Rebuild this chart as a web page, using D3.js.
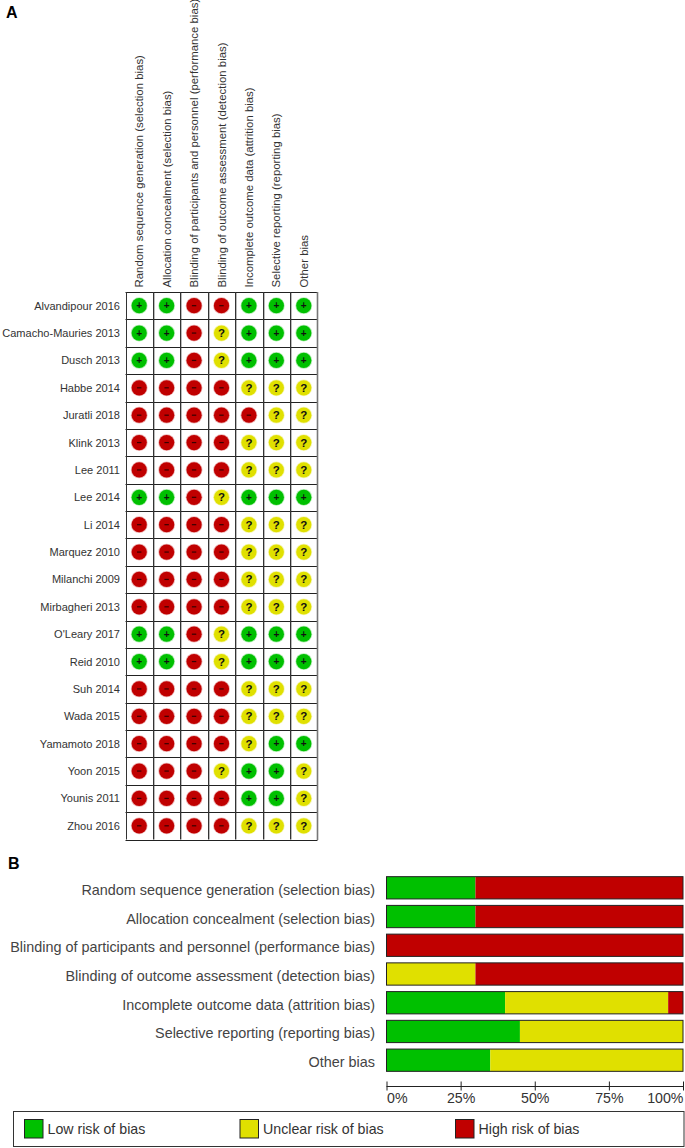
<!DOCTYPE html>
<html><head><meta charset="utf-8">
<script src="https://cdn.jsdelivr.net/npm/d3@7/dist/d3.min.js"></script>
<style>html,body{margin:0;padding:0;background:#fff}svg{display:block}text{font-family:"Liberation Sans",Arial,sans-serif}</style>
</head><body><svg id="c" width="685" height="1148"></svg>
<script>
const domains = ["Random sequence generation (selection bias)","Allocation concealment (selection bias)","Blinding of participants and personnel (performance bias)","Blinding of outcome assessment (detection bias)","Incomplete outcome data (attrition bias)","Selective reporting (reporting bias)","Other bias"];
const studies = ["Alvandipour 2016","Camacho-Mauries 2013","Dusch 2013","Habbe 2014","Juratli 2018","Klink 2013","Lee 2011","Lee 2014","Li 2014","Marquez 2010","Milanchi 2009","Mirbagheri 2013","O'Leary 2017","Reid 2010","Suh 2014","Wada 2015","Yamamoto 2018","Yoon 2015","Younis 2011","Zhou 2016"];
const judgements = ["++--+++","++-?+++","++-?+++","----???","-----??","----???","----???","++-?+++","----???","----???","----???","----???","++-?+++","++-?+++","----???","----???","----?++","---?++?","----++?","----???"];
const lowPct = [30,30,0,0,40,45,35];
const unclearPct = [0,0,0,30,55,55,65];
const highPct = [70,70,100,70,5,0,0];
const ticks = [0,25,50,75,100];
const legendLabels = ["Low risk of bias","Unclear risk of bias","High risk of bias"];
const colors = {"+":"#00c000","?":"#e0e000","-":"#c00000"};
const legendColors = ["#00c000","#e0e000","#c00000"];
const svg = d3.select("#c");
const ink = "#333";

svg.append("text").attr("x",6).attr("y",18).attr("font-size",16).attr("font-weight","bold").attr("fill","#000").text("A");
svg.append("text").attr("x",8).attr("y",869).attr("font-size",16).attr("font-weight","bold").attr("fill","#000").text("B");

// Panel A
const x = d3.scaleBand().domain(domains).range([125.5,317.5]);
const y = d3.scaleBand().domain(studies).range([292,839.5]);
const gridLines = svg.append("g");
gridLines.selectAll("line.s").data(domains.slice(0,-1).map(d=>x(d)+x.bandwidth())).join("line")
  .attr("y1",y.range()[0]).attr("y2",y.range()[1]).attr("x1",d=>Math.round(d)+1.5).attr("x2",d=>Math.round(d)+1.5).attr("stroke","#bbb");
gridLines.selectAll("line.h").data([...studies.map(s=>y(s)),y.range()[1]]).join("line")
  .attr("x1",x.range()[0]).attr("x2",x.range()[1]).attr("y1",d=>Math.round(d)+.5).attr("y2",d=>Math.round(d)+.5).attr("stroke","#222");
gridLines.selectAll("line.v").data(domains.map(d=>x(d))).join("line")
  .attr("y1",y.range()[0]).attr("y2",y.range()[1]).attr("x1",d=>Math.round(d)+.5).attr("x2",d=>Math.round(d)+.5).attr("stroke","#333");
gridLines.append("line").attr("y1",y.range()[0]).attr("y2",y.range()[1]+.5)
  .attr("x1",x.range()[1]).attr("x2",x.range()[1]).attr("stroke","#777").attr("stroke-width",1.6);

svg.append("g").selectAll("text").data(studies).join("text")
  .attr("x",120).attr("y",d=>y(d)+y.bandwidth()/2+4).attr("text-anchor","end")
  .attr("font-size",11.04).attr("fill",ink).text(d=>d);
svg.append("g").selectAll("text").data(domains).join("text")
  .attr("transform",d=>`translate(${x(d)+x.bandwidth()/2+4},287.5) rotate(-90)`)
  .attr("font-size",11.4).attr("fill",ink).text(d=>d);

const cells = judgements.flatMap((row,i)=>Array.from(row).map((j,k)=>({study:studies[i],domain:domains[k],j})));
const cg = svg.append("g").selectAll("g").data(cells).join("g")
  .attr("transform",d=>`translate(${x(d.domain)+x.bandwidth()/2},${y(d.study)+y.bandwidth()/2})`);
cg.append("circle").attr("r",8.4).attr("fill",d=>colors[d.j]).attr("opacity",.3);
cg.append("circle").attr("r",7.6).attr("fill",d=>colors[d.j]);
cg.filter(d=>d.j==="-").append("rect").attr("x",-2.2).attr("y",-.6).attr("width",4.4).attr("height",1.2).attr("fill","#3a0000");
cg.filter(d=>d.j!=="-").append("text").attr("text-anchor","middle").attr("y",d=>d.j==="?"?4:3.5).attr("font-weight","bold")
  .attr("font-size",d=>d.j==="?"?11.5:10).attr("fill","#111").text(d=>d.j);

// Panel B
const bx = d3.scaleLinear().domain([0,100]).range([386.5,683]);
const by = d3.scaleBand().domain(domains).range([873.5,1074.5]).paddingInner(.225).paddingOuter(.11);
svg.append("g").selectAll("text").data(domains).join("text")
  .attr("x",375).attr("y",d=>by(d)+by.bandwidth()/2+7).attr("text-anchor","end")
  .attr("font-size",14.4).attr("fill","#444").text(d=>d);
const segs = domains.flatMap((d,i)=>[
  {d,start:0,val:lowPct[i],c:legendColors[0]},
  {d,start:lowPct[i],val:unclearPct[i],c:legendColors[1]},
  {d,start:lowPct[i]+unclearPct[i],val:highPct[i],c:legendColors[2]}]);
svg.append("g").selectAll("rect").data(segs).join("rect")
  .attr("x",d=>bx(d.start)).attr("width",d=>bx(d.start+d.val)-bx(d.start))
  .attr("y",d=>by(d.d)).attr("height",by.bandwidth()).attr("fill",d=>d.c);
svg.append("g").selectAll("rect").data(domains).join("rect")
  .attr("x",bx(0)).attr("width",bx(100)-bx(0)).attr("y",d=>by(d)).attr("height",by.bandwidth())
  .attr("fill","none").attr("stroke","#222").attr("stroke-width",1);

const axis = svg.append("g").attr("transform","translate(0,1086.5)")
  .call(d3.axisBottom(bx).tickValues(ticks).tickSize(0).tickFormat(d=>d+"%"));
axis.select(".domain").attr("stroke","#222").attr("d",`M${bx(0)},0H${bx(100)}`);
axis.selectAll(".tick line").attr("stroke","#222").attr("y1",-5).attr("y2",4);
axis.selectAll("text").attr("font-size",14.2).attr("font-family","Liberation Sans").attr("fill","#333").attr("y",6).attr("dy",".71em");
axis.selectAll("text").filter(d=>d===0).attr("text-anchor","start");
axis.selectAll("text").filter(d=>d===100).attr("text-anchor","end");
axis.select(".domain").raise();

// Legend
svg.append("rect").attr("x",13.5).attr("y",1111.5).attr("width",670.5).attr("height",35).attr("fill","#fff").attr("stroke","#333");
const lx = d3.scaleOrdinal().domain(legendLabels).range([24.5,240,455.5]);
const lg = svg.append("g").selectAll("g").data(legendLabels).join("g");
lg.append("rect").attr("x",d=>lx(d)).attr("y",1119.5).attr("width",18.5).attr("height",18.5)
  .attr("fill",(d,i)=>legendColors[i]).attr("stroke","#222");
lg.append("text").attr("x",d=>lx(d)+23).attr("y",1134).attr("font-size",14.2).attr("fill","#333").text(d=>d);
</script></body></html>
